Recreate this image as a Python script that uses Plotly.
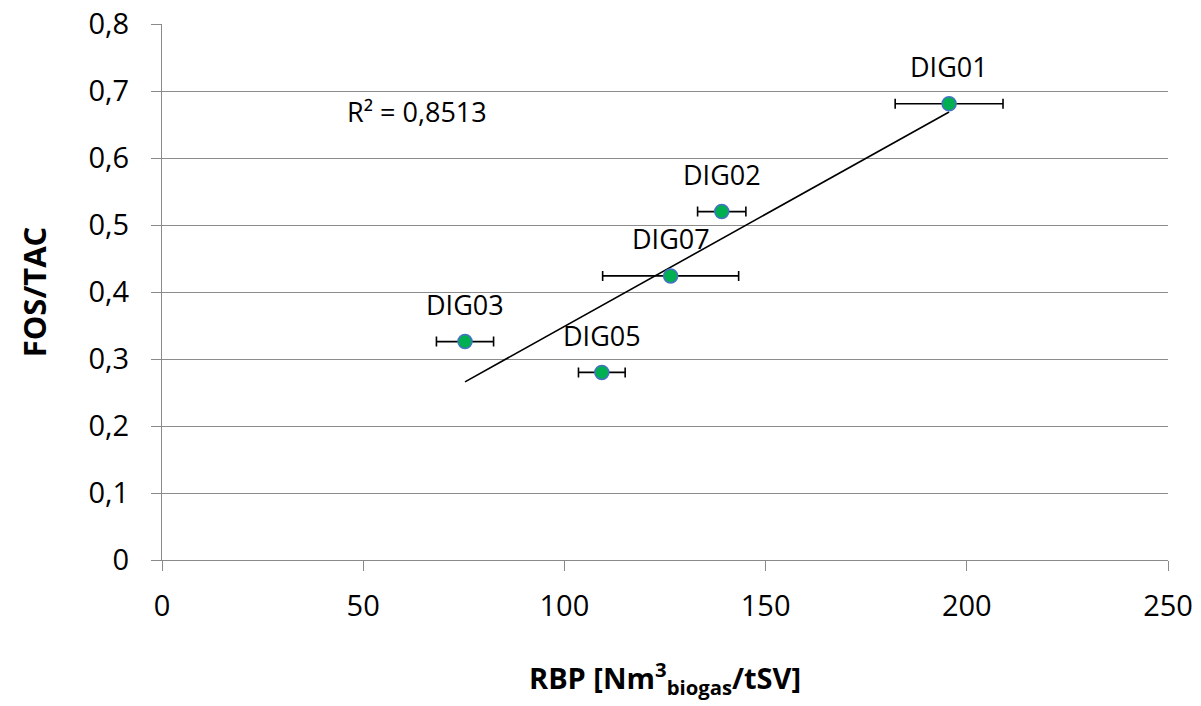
import numpy as np
import plotly.graph_objects as go

# Data
names = ["DIG01", "DIG02", "DIG07", "DIG03", "DIG05"]
rbp = [195.6, 139.1, 126.4, 75.3, 109.3]
rbp_err = [13.4, 6.0, 16.9, 7.1, 5.8]
fos_tac = [0.681, 0.520, 0.424, 0.326, 0.280]

x_ticks = [0, 50, 100, 150, 200, 250]
y_ticks = [0, 0.1, 0.2, 0.3, 0.4, 0.5, 0.6, 0.7, 0.8]
y_ticktext = ["0", "0,1", "0,2", "0,3", "0,4", "0,5", "0,6", "0,7", "0,8"]
r2_text = "R² = 0,8513"

FONT = "Open Sans"

# linear trendline (least squares)
xa = np.array(rbp)
ya = np.array(fos_tac)
slope, intercept = np.polyfit(xa, ya, 1)
x_line = np.array([xa.min(), xa.max()])
y_line = slope * x_line + intercept

fig = go.Figure()

fig.add_trace(go.Scatter(
    x=x_line, y=y_line, mode="lines",
    line=dict(color="black", width=1.6),
    hoverinfo="skip", showlegend=False,
))

fig.add_trace(go.Scatter(
    x=rbp, y=fos_tac, mode="markers",
    marker=dict(size=14, color="#00B050", line=dict(color="#4472C4", width=1.5)),
    error_x=dict(type="data", array=rbp_err, visible=True, color="black",
                 thickness=1.6, width=5),
    showlegend=False,
))

for n, xv, yv in zip(names, rbp, fos_tac):
    fig.add_annotation(x=xv, y=yv, text=n, showarrow=False, yshift=37,
                       font=dict(family=FONT, size=27, color="black"))

fig.add_annotation(x=45.5, y=0.669, text=r2_text, showarrow=False,
                   xanchor="left", font=dict(family=FONT, size=27, color="black"))

fig.update_layout(
    width=1201, height=706,
    margin=dict(l=162, r=33, t=24, b=146, autoexpand=False),
    paper_bgcolor="white", plot_bgcolor="white",
    font=dict(family=FONT, size=27, color="black"),
    showlegend=False,
)

fig.update_xaxes(
    range=[0, 250], tickvals=x_ticks, ticktext=[str(v) for v in x_ticks],
    showgrid=False, zeroline=False, automargin=False,
    showline=True, linecolor="#898989", linewidth=1.3,
    ticks="outside", ticklen=10, tickcolor="#898989", tickwidth=1.3,
    ticklabelstandoff=10,
    tickfont=dict(family=FONT, size=29, color="black"),
    title=dict(text="RBP [Nm<sup>3</sup><sub>biogas</sub>/tSV]",
               font=dict(family=FONT, size=29, color="black", weight="bold"),
               standoff=45),
)

fig.update_yaxes(
    range=[0, 0.8], tickvals=y_ticks, ticktext=y_ticktext,
    showgrid=True, gridcolor="#8c8c8c", gridwidth=1.3, zeroline=False,
    automargin=True,
    showline=True, linecolor="#898989", linewidth=1.3,
    ticks="outside", ticklen=10, tickcolor="#898989", tickwidth=1.3,
    ticklabelstandoff=16,
    tickfont=dict(family=FONT, size=29, color="black"),
    title=dict(text="FOS/TAC",
               font=dict(family=FONT, size=31, color="black", weight="bold"),
               standoff=32),
)

fig.write_html("out.html")
